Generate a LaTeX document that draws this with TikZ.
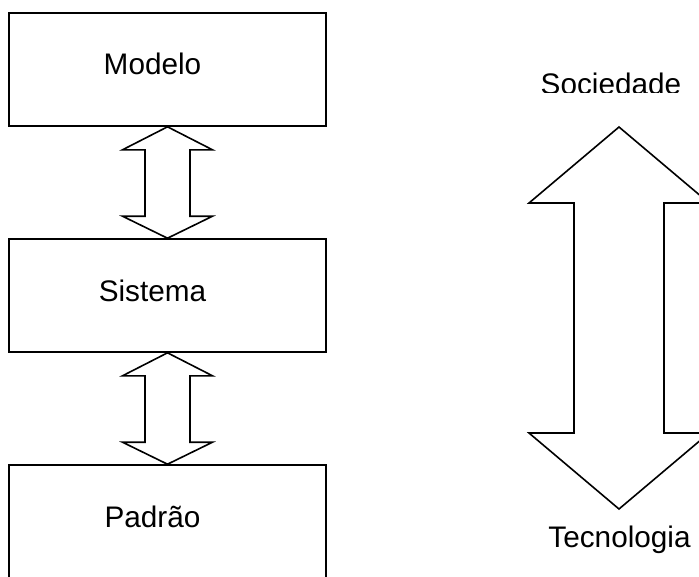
\documentclass[tikz,border=0pt]{standalone}
\usepackage{fontspec}
\setmainfont{Liberation Sans}
\usetikzlibrary{calc}
\tikzset{
  outline/.style={draw=black, line width=1.2pt, line join=miter},
  blockbox/.style={outline, minimum width=237.75pt, minimum height=84.75pt, inner sep=0pt},
  caption/.style={font=\fontsize{22.3pt}{26pt}\selectfont, inner sep=0pt, anchor=base}
}
% hollow two-headed arrow between the bottom of one block and the top of the next
\newcommand{\linkarrow}[2]{%
  \draw[outline] (#1.south) -- ++(45,23) -- ++(-22.5,0)
    -- ($(#2.north)+(22.5,-22)$) -- ++(22.5,0) -- (#2.north)
    -- ++(-45,-22) -- ++(22.5,0)
    -- ($(#1.south)+(-22.5,23)$) -- ++(-22.5,0) -- cycle;}
\begin{document}
\begin{tikzpicture}[x=0.75pt, y=-0.75pt]
  \useasboundingbox (0,0) rectangle (699,576);
  \clip (0,0) rectangle (699,576);

  % stacked blocks
  \node[blockbox] (modelo)  at (167.5, 69.5) {};
  \node[blockbox] (sistema) at (167.5,295.5) {};
  \node[blockbox] (padrao)  at (167.5,521.5) {};

  \node[caption] (tmodelo)  at (152.5, 74) {Modelo};
  \node[caption] (tsistema) at (152.5,301) {Sistema};
  \node[caption] (tpadrao)  at (152.5,527) {Padrão};

  \linkarrow{modelo}{sistema}
  \linkarrow{sistema}{padrao}

  % large vertical two-headed arrow
  \begin{scope}
    \clip (520,50) rectangle (699,92.5);
    \node[caption] (soc) at (611,94) {Sociedade};
  \end{scope}
  \node[caption] (tec) at (619.5,547) {Tecnologia};
  \coordinate (up)   at (619,127);
  \coordinate (down) at (619,509);
  \draw[outline] (up) -- ++(90,76) -- ++(-45,0)
    -- ($(down)+(45,-76)$) -- ++(45,0) -- (down)
    -- ++(-90,-76) -- ++(45,0)
    -- ($(up)+(-45,76)$) -- ++(-45,0) -- cycle;
\end{tikzpicture}
\end{document}
